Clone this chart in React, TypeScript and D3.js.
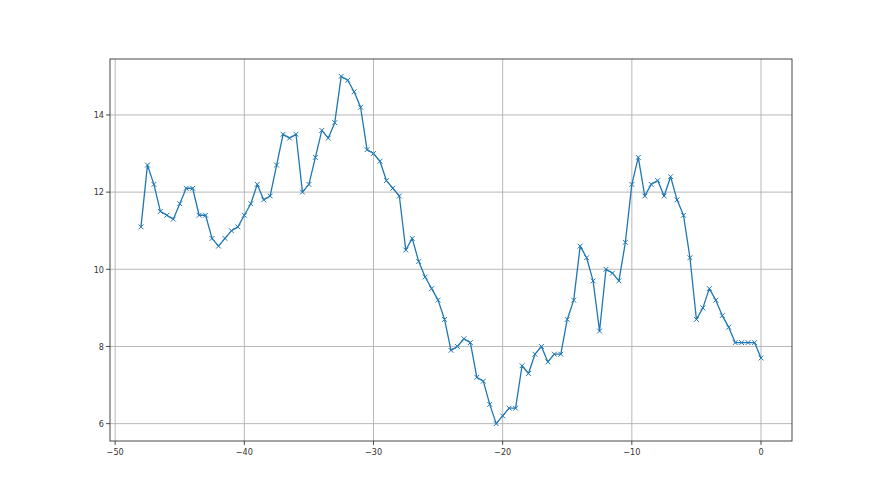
import React from "react";
import * as d3 from "d3";

const xValues: number[] = Array.from({ length: 97 }, (_, i) => -48 + i * 0.5);
const yValues: number[] = [
  11.1, 12.7, 12.2, 11.5, 11.4, 11.3, 11.7, 12.1, 12.1, 11.4, 11.4, 10.8, 10.6, 10.8, 11.0, 11.1,
  11.4, 11.7, 12.2, 11.8, 11.9, 12.7, 13.5, 13.4, 13.5, 12.0, 12.2, 12.9, 13.6, 13.4, 13.8, 15.0,
  14.9, 14.6, 14.2, 13.1, 13.0, 12.8, 12.3, 12.1, 11.9, 10.5, 10.8, 10.2, 9.8, 9.5, 9.2, 8.7,
  7.9, 8.0, 8.2, 8.1, 7.2, 7.1, 6.5, 6.0, 6.2, 6.4, 6.4, 7.5, 7.3, 7.8, 8.0, 7.6,
  7.8, 7.8, 8.7, 9.2, 10.6, 10.3, 9.7, 8.4, 10.0, 9.9, 9.7, 10.7, 12.2, 12.9, 11.9, 12.2,
  12.3, 11.9, 12.4, 11.8, 11.4, 10.3, 8.7, 9.0, 9.5, 9.2, 8.8, 8.5, 8.1, 8.1, 8.1, 8.1,
  7.7,
];
const xTicks: number[] = [-50, -40, -30, -20, -10, 0];
const yTicks: number[] = [6, 8, 10, 12, 14];

const W = 880;
const H = 495;
const L = 110, R = 792, T = 59, B = 441;

export default function App() {
  const xmin = d3.min(xValues)!, xmax = d3.max(xValues)!;
  const ymin = d3.min(yValues)!, ymax = d3.max(yValues)!;
  const xm = (xmax - xmin) * 0.05, ym = (ymax - ymin) * 0.05;
  const x = d3.scaleLinear().domain([xmin - xm, xmax + xm]).range([L, R]);
  const y = d3.scaleLinear().domain([ymin - ym, ymax + ym]).range([B, T]);
  const pts = xValues.map((v, i) => [v, yValues[i]] as [number, number]);
  const line = d3.line<[number, number]>().x((d) => x(d[0])).y((d) => y(d[1]));
  const color = "#1f77b4";
  const ms = 2.4;
  return (
    <svg width={W} height={H} style={{ position: "absolute", left: 0, top: 0, background: "#fff" }}
      fontFamily="'DejaVu Sans Condensed', 'DejaVu Sans'" fontSize={9} style-stretch="condensed">
      <rect x={0} y={0} width={W} height={H} fill="#fff" />
      <g>
        {xTicks.map((t) => (
          <line key={"gx" + t} x1={x(t)} x2={x(t)} y1={T} y2={B} stroke="#b0b0b0" strokeWidth={0.9} />
        ))}
        {yTicks.map((t) => (
          <line key={"gy" + t} x1={L} x2={R} y1={y(t)} y2={y(t)} stroke="#b0b0b0" strokeWidth={0.9} />
        ))}
      </g>
      <path d={line(pts)!} fill="none" stroke={color} strokeWidth={1.3} strokeLinejoin="round" />
      <g>
        {pts.map((p, i) => (
          <path key={i}
            d={`M${x(p[0]) - ms},${y(p[1]) - ms}L${x(p[0]) + ms},${y(p[1]) + ms}M${x(p[0]) - ms},${y(p[1]) + ms}L${x(p[0]) + ms},${y(p[1]) - ms}`}
            stroke={color} strokeWidth={1} fill="none" />
        ))}
      </g>
      <rect x={L} y={T} width={R - L} height={B - T} fill="none" stroke="#333" strokeWidth={0.9} />
      <g>
        {xTicks.map((t) => (
          <g key={"tx" + t}>
            <line x1={x(t)} x2={x(t)} y1={B} y2={B + 3.9} stroke="#333" strokeWidth={0.9} />
            <text x={x(t)} y={B + 13.5} textAnchor="middle" fill="#333">{t < 0 ? "\u2212" + Math.abs(t) : String(t)}</text>
          </g>
        ))}
        {yTicks.map((t) => (
          <g key={"ty" + t}>
            <line x1={L - 3.9} x2={L} y1={y(t)} y2={y(t)} stroke="#333" strokeWidth={0.9} />
            <text x={L - 6} y={y(t) + 3.3} textAnchor="end" fill="#333">{String(t)}</text>
          </g>
        ))}
      </g>
    </svg>
  );
}
